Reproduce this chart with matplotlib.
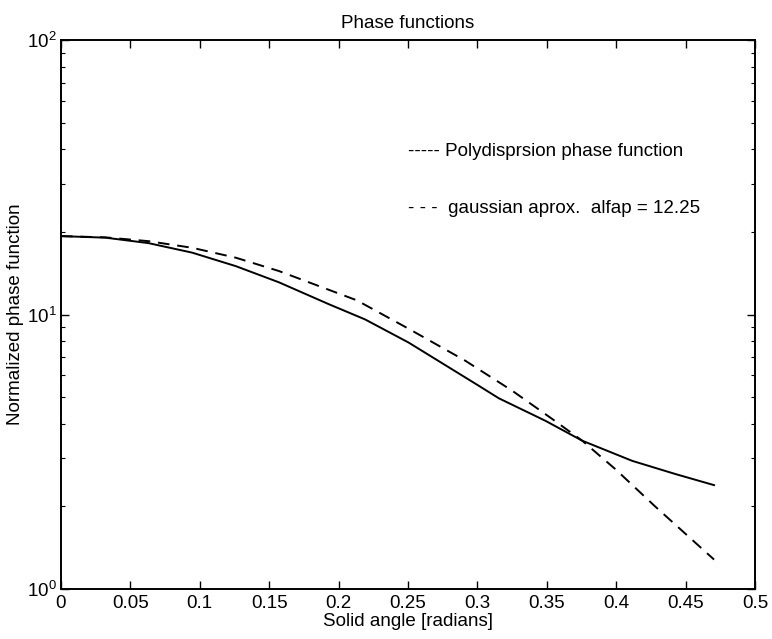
import matplotlib
matplotlib.use("Agg")
import matplotlib.pyplot as plt
from matplotlib.ticker import LogLocator, FixedLocator, NullFormatter

plt.rcParams['font.family'] = ['Liberation Sans', 'DejaVu Sans']

# Polydispersion phase function (solid)
poly_x = [0.0, 0.032, 0.063, 0.0945, 0.126, 0.157, 0.193, 0.219, 0.2505, 0.301,
          0.3155, 0.349, 0.3755, 0.4115, 0.443, 0.4705]
poly_y = [19.3, 19.05, 18.2, 16.8, 15.0, 13.1, 10.9, 9.6, 7.9, 5.5,
          4.95, 4.1, 3.47, 2.93, 2.62, 2.39]

# Gaussian approximation (dashed)
gauss_x = [0.0, 0.032, 0.063, 0.0945, 0.126, 0.157, 0.193, 0.213, 0.2505, 0.291,
           0.325, 0.354, 0.3755, 0.3995, 0.428, 0.4705]
gauss_y = [19.3, 19.1, 18.5, 17.5, 16.1, 14.4, 12.3, 11.27, 8.87, 6.8,
           5.28, 4.16, 3.47, 2.73, 2.0, 1.28]

x_ticks = [0, 0.05, 0.1, 0.15, 0.2, 0.25, 0.3, 0.35, 0.4, 0.45, 0.5]
x_ticklabels = ['0', '0.05', '0.1', '0.15', '0.2', '0.25', '0.3', '0.35', '0.4', '0.45', '0.5']

FS = 13.5
W, H = 772, 639
fig = plt.figure(figsize=(W / 100, H / 100), dpi=100)
ax = fig.add_axes([61 / W, 1 - 589 / H, (755 - 61) / W, (589 - 40) / H])

ax.plot(poly_x, poly_y, color='black', linewidth=1.4, linestyle='-')
ax.plot(gauss_x, gauss_y, color='black', linewidth=1.4, linestyle=(0, (6, 4)))

ax.set_yscale('log')
ax.set_xlim(0, 0.5)
ax.set_ylim(1, 100)
ax.set_xticks(x_ticks)
ax.set_xticklabels(x_ticklabels)
ax.yaxis.set_major_locator(FixedLocator([1, 10, 100]))
ax.yaxis.set_minor_locator(LogLocator(base=10, subs=range(2, 10)))
ax.yaxis.set_minor_formatter(NullFormatter())
ax.tick_params(axis='both', which='both', direction='in', top=True, right=True,
               labelsize=FS)
ax.tick_params(which='major', length=6, width=1)
ax.tick_params(which='minor', length=3, width=0.8)
ax.tick_params(axis='x', pad=4)
ax.tick_params(axis='y', pad=3)
for s in ax.spines.values():
    s.set_linewidth(1.4)

ax.set_title('Phase functions', fontsize=FS, pad=9)
ax.set_xlabel('Solid angle [radians]', fontsize=FS, labelpad=1)
ax.set_ylabel('Normalized phase function', fontsize=FS, labelpad=2)

ax.text(0.25, 39.1, '----- Polydisprsion phase function', fontsize=FS, va='center')
ax.text(0.25, 24.4, '- - -  gaussian aprox.  alfap = 12.25', fontsize=FS, va='center')

fig.savefig('out.png', dpi=100)
